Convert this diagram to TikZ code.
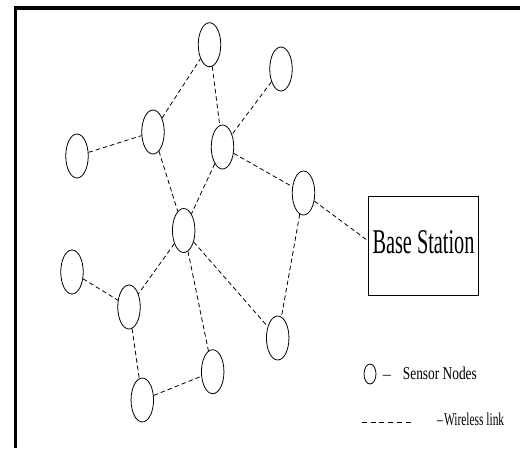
\documentclass[tikz,border=0pt]{standalone}
\usepackage{fontspec}
\setmainfont{Liberation Serif}
\usepackage{graphicx}
\usetikzlibrary{shapes.geometric}
\begin{document}
\begin{tikzpicture}[x=1pt,y=-1pt,
  sensor/.style={draw, ellipse, minimum width=22.5pt, minimum height=44pt, inner sep=0pt, line width=0.8pt},
  link/.style={line width=0.8pt, dash pattern=on 4.5pt off 3pt},
  frameline/.style={line width=3.5pt},
  bsbox/.style={draw, line width=0.9pt, minimum width=110pt, minimum height=99pt, inner sep=0pt},
  lbl/.style={inner sep=0pt, anchor=base west}]
\path[use as bounding box, fill=white] (0,0) rectangle (520,448);
% frame
\coordinate (fa) at (520,8);
\coordinate (fb) at (13.75,8);
\coordinate (fc) at (15.5,6.25);
\coordinate (fd) at (15.5,448);
\draw[frameline] (fb) -- (fa);
\draw[frameline] (fc) -- (fd);
% sensor nodes
\node[sensor] (n1) at (209.5,44.7) {};
\node[sensor] (n2) at (281,69) {};
\node[sensor] (n3) at (153,132) {};
\node[sensor] (n4) at (77,156) {};
\node[sensor] (n5) at (222.5,147) {};
\node[sensor] (n6) at (303.5,193) {};
\node[sensor] (n7) at (183.7,230.5) {};
\node[sensor] (n8) at (72,272) {};
\node[sensor] (n9) at (129,307) {};
\node[sensor] (n10) at (212.7,371.7) {};
\node[sensor] (n11) at (142.3,400) {};
\node[sensor] (n12) at (277.7,338) {};
% base station
\node[bsbox] (bs) at (423,245.5) {};
\node[lbl] (bst) at (372.3,253.3) {\resizebox{102pt}{23pt}{Base Station}};
% links
\draw[link] (n4) -- (n3);
\draw[link] (n3) -- (n1);
\draw[link] (n1) -- (n5);
\draw[link] (n2) -- (n5);
\draw[link] (n3) -- (n7);
\draw[link] (n5) -- (n7);
\draw[link] (n5) -- (n6);
\draw[link] (n6) -- ([yshift=5pt]bs.west);
\draw[link] (n6) -- (n12);
\draw[link] (n7) -- (n12);
\draw[link] (n7) -- (n10);
\draw[link] (n7) -- (n9);
\draw[link] (n8) -- (n9);
\draw[link] (n9) -- (n11);
\draw[link] (n11) -- (n10);
% legend
\node[sensor, minimum width=12pt, minimum height=20pt] (lg) at (370,374) {};
\node[lbl] (lgd1) at (382.7,379.3) {\resizebox{8pt}{!}{–}};
\node[lbl] (lgt1) at (402.7,379.3) {\resizebox{74pt}{12.5pt}{Sensor Nodes}};
\coordinate (la) at (361.7,422.3);
\coordinate (lb) at (410.7,422.3);
\draw[line width=0.8pt, dash pattern=on 5pt off 3.8pt] (la) -- (lb);
\node[lbl] (lgt2) at (437,425) {\resizebox{67pt}{12.5pt}{–\kern1pt Wireless link}};
\end{tikzpicture}
\end{document}
